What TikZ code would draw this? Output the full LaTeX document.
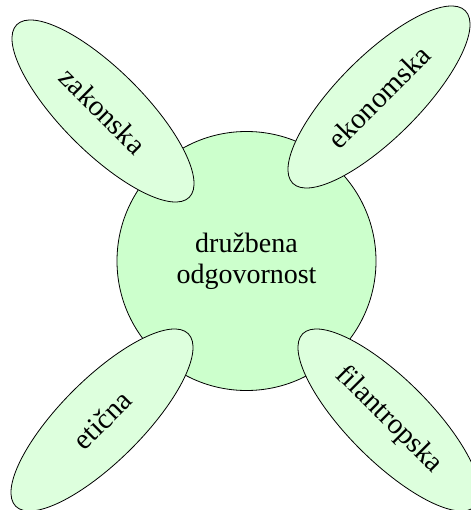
\documentclass[tikz,border=0pt]{standalone}
\usepackage{fontspec}
\setmainfont{Liberation Serif}
\usetikzlibrary{shapes.geometric}
\definecolor{hubfill}{HTML}{CCFFCC}
\definecolor{leaffill}{HTML}{DDFFDD}
\tikzset{
  hub/.style={circle, draw=black, line width=0.8pt, fill=hubfill,
    minimum size=259pt, inner sep=0pt, align=center,
    font=\fontsize{28}{31}\selectfont},
  leaf/.style={ellipse, draw=black, line width=0.8pt, fill=leaffill,
    minimum width=244pt, minimum height=82pt, inner sep=0pt,
    font=\fontsize{29}{32}\selectfont}
}
\begin{document}
\begin{tikzpicture}[x=1pt, y=-1pt]
  \useasboundingbox (0,0) rectangle (470,510);
  \node[hub] (center) at (246.5,261) {družbena\\odgovornost};
  \node[leaf, rotate=-45] (zak) at (103,111) {zakonska};
  \node[leaf, rotate=45]  (eko) at (379,97)  {ekonomska};
  \node[leaf, rotate=45]  (eti) at (102,420) {etična};
  \node[leaf, rotate=-45] (fil) at (389,420) {filantropska};
\end{tikzpicture}
\end{document}
